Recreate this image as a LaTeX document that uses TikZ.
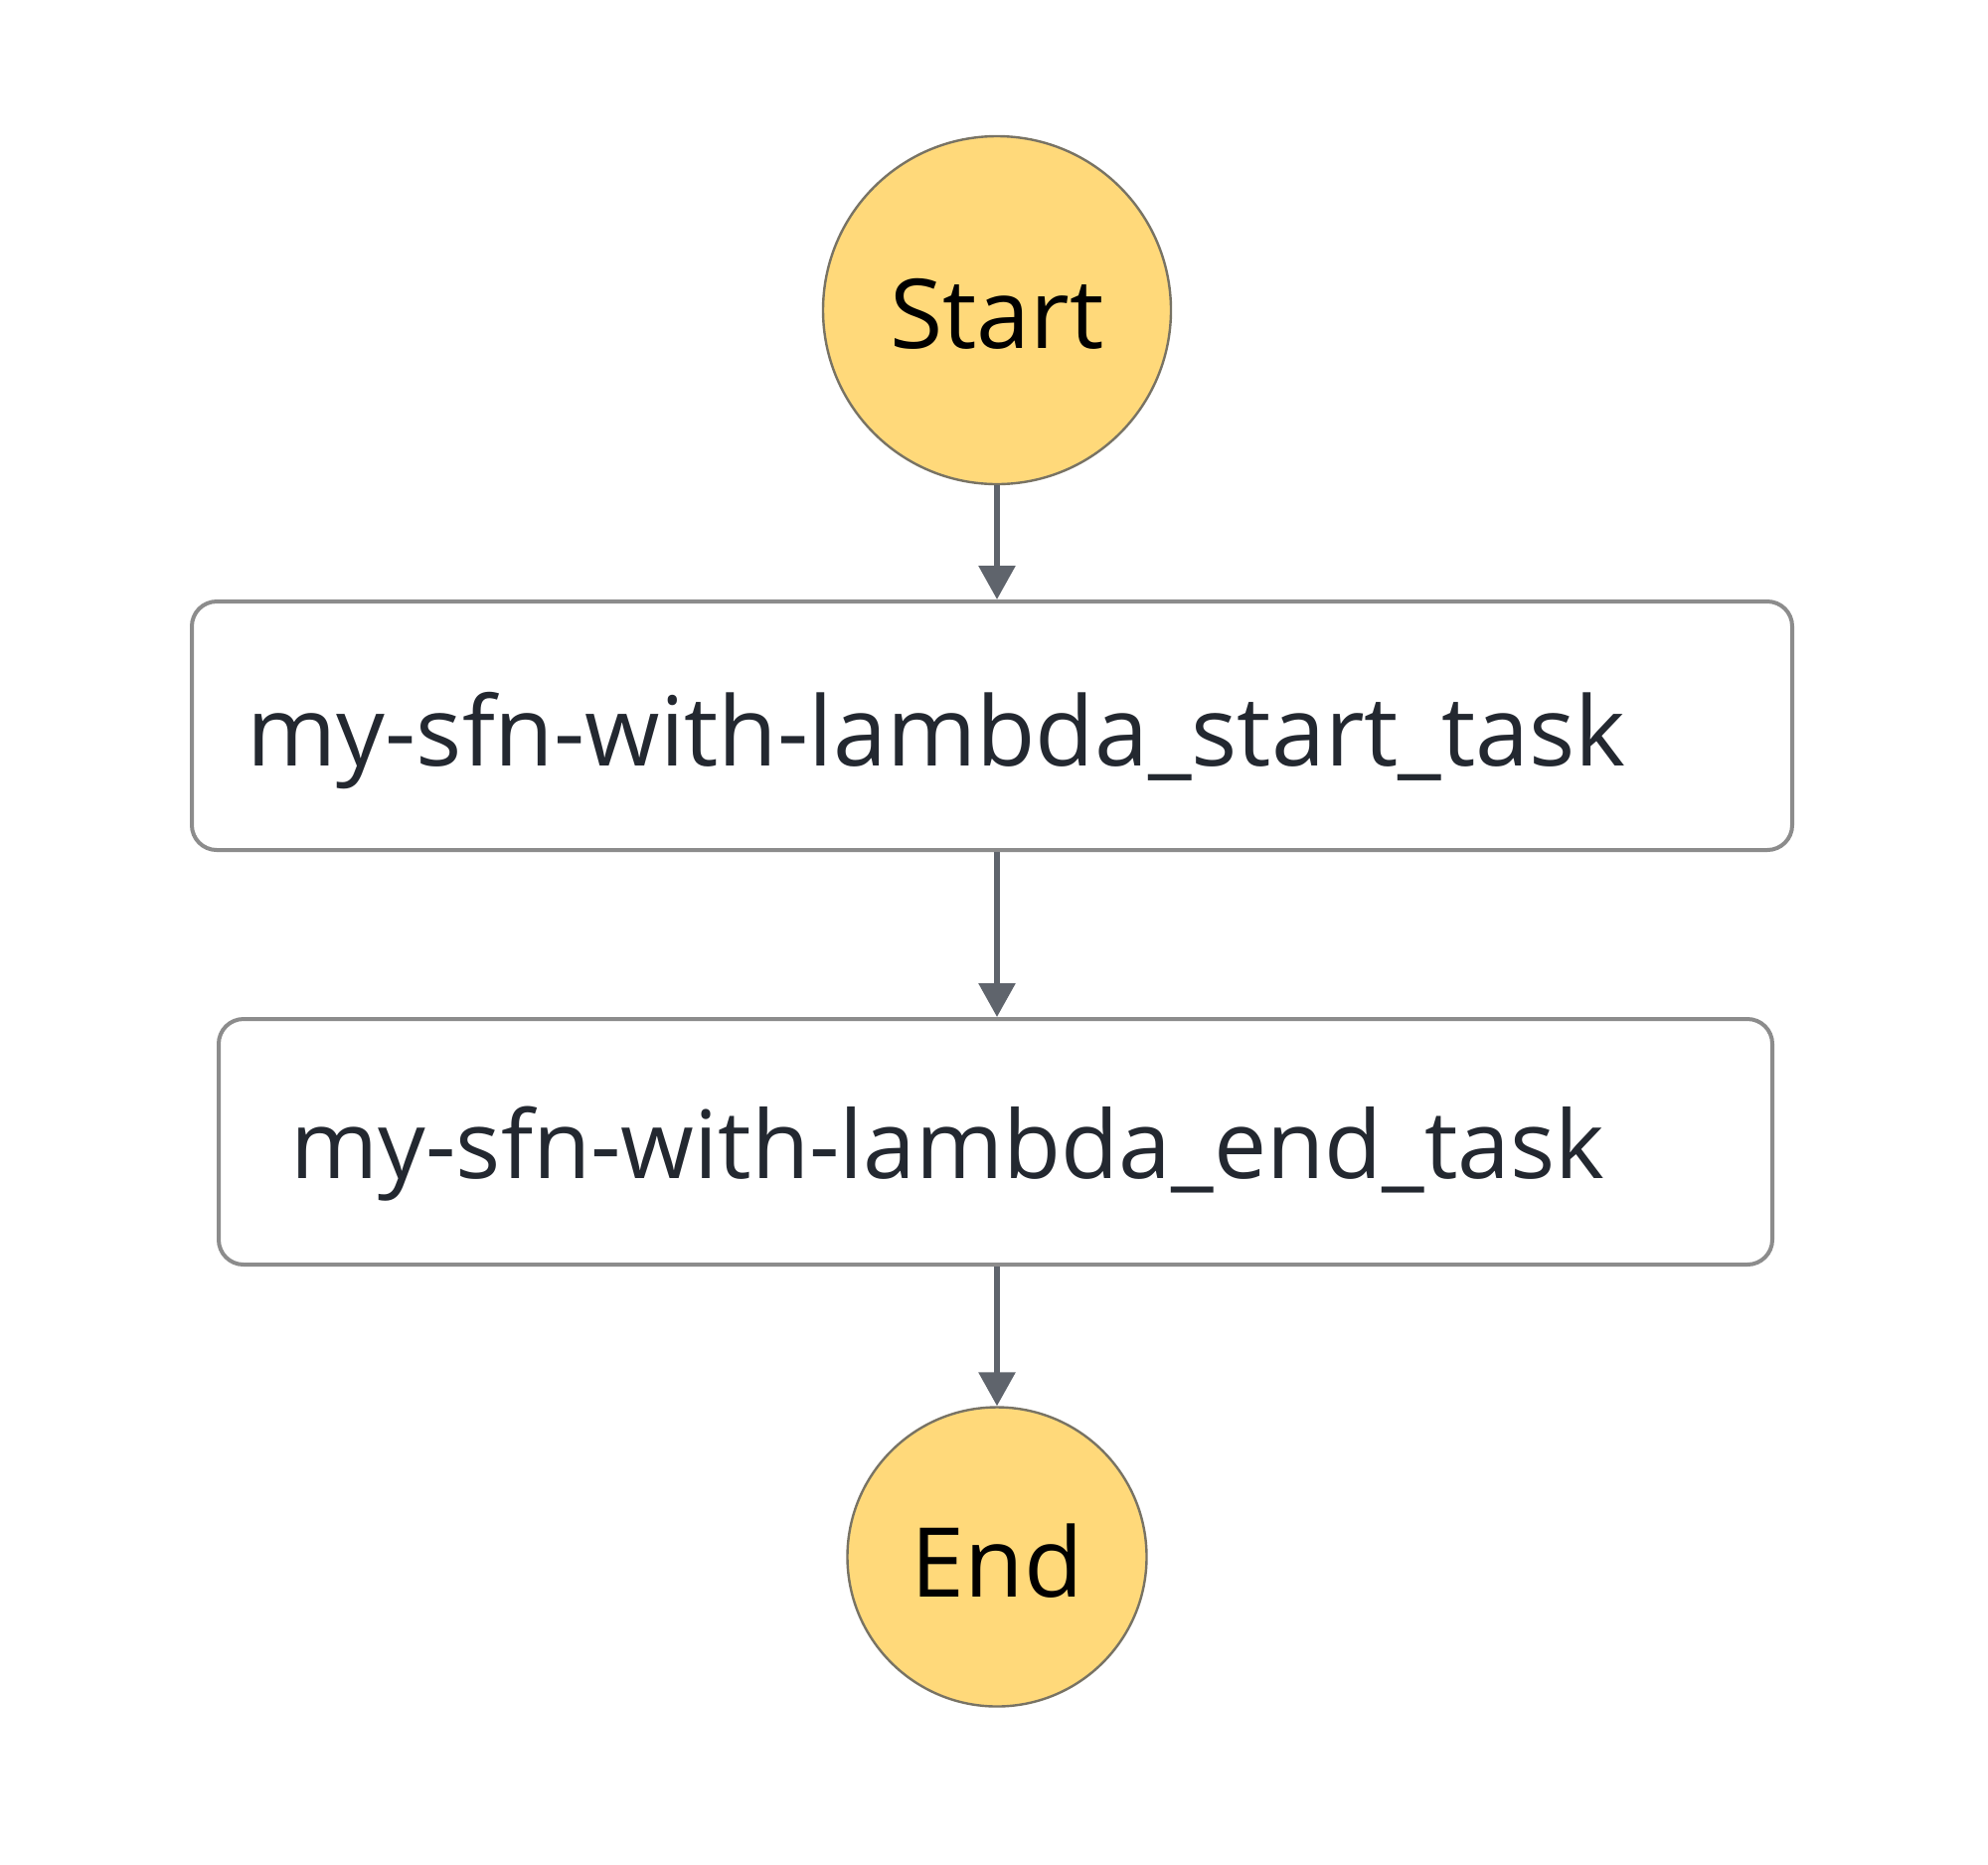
\documentclass[tikz,border=0pt]{standalone}
\usepackage{fontspec}
\setmainfont{Open Sans}
\usetikzlibrary{arrows.meta}
\definecolor{startfill}{RGB}{255,217,122}
\definecolor{circborder}{RGB}{120,115,100}
\definecolor{boxborder}{RGB}{140,140,140}
\definecolor{arrowcol}{RGB}{95,100,108}
\definecolor{tasktext}{RGB}{35,40,48}
\tikzset{
  termnode/.style={circle, fill=startfill, draw=circborder, line width=1.2pt, inner sep=0pt},
  taskbox/.style={draw=boxborder, line width=2pt, rounded corners=12.5pt, fill=white},
  tasklabel/.style={anchor=base west, inner sep=0pt, text=tasktext, font=\fontsize{48.5}{52}\selectfont},
  termlabel/.style={font=\fontsize{48.5}{52}\selectfont, text=black},
  flow/.style={draw=arrowcol, line width=3pt, -{Triangle[width=18pt,length=17pt]}},
}
\begin{document}
\begin{tikzpicture}[x=0.5pt,y=-0.5pt]
\useasboundingbox (0,0) rectangle (2000,1875);
\fill[white] (0,0) rectangle (2000,1875);
% nodes
\node[termnode, minimum size=175pt] (start) at (1003,312) {};
\node[termlabel] at ([yshift=-2pt]start.center) {Start};
\node[taskbox, minimum width=805pt, minimum height=125pt] (t1) at (998,730) {};
\node[tasklabel] (l1) at (248,770) {my-sfn-with-lambda\_start\_task};
\node[taskbox, minimum width=781.5pt, minimum height=123.5pt] (t2) at (1001.5,1148.5) {};
\node[tasklabel, font=\fontsize{47.4}{51}\selectfont] (l2) at (292,1185) {my-sfn-with-lambda\_end\_task};
\node[termnode, minimum size=150.5pt] (end) at (1003,1566) {};
\node[termlabel] at ([yshift=-2pt]end.center) {End};
% connectors
\draw[flow] (start.south) -- (start.south |- t1.north);
\draw[flow] (start.south |- t1.south) -- (start.south |- t2.north);
\draw[flow] (start.south |- t2.south) -- (end.north);
\end{tikzpicture}
\end{document}
